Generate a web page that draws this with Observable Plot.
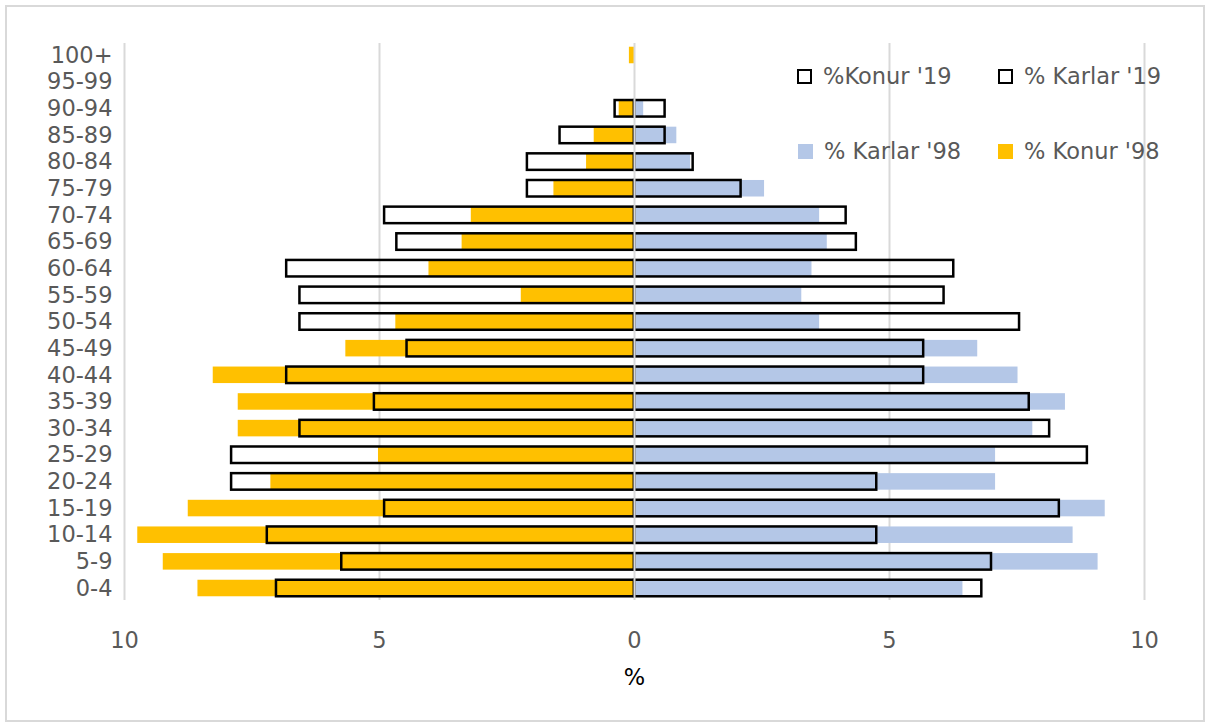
<!DOCTYPE html>
<html>
<head>
<meta charset="utf-8">
<script src="https://cdn.jsdelivr.net/npm/d3@7"></script>
<script src="https://cdn.jsdelivr.net/npm/@observablehq/plot@0.6"></script>
<style>
  html, body { margin: 0; padding: 0; background: #fff; }
  #wrap { position: relative; width: 1207px; height: 724px; overflow: hidden; }
  #frame { position: absolute; left: 5px; top: 5px; width: 1196px; height: 713px; border: 2px solid #d9d9d9; pointer-events: none; }
  #chart { position: absolute; left: 0; top: 0; }
  .leg { position: absolute; font-family: "DejaVu Sans", sans-serif; font-size: 22.5px; color: #595959; line-height: 1; white-space: nowrap; display: flex; align-items: center; }
  .sw { display: inline-block; width: 15px; height: 15px; box-sizing: border-box; margin-right: 11px; }
  .sw.outline { border: 2.5px solid #000; background: #fff; }
</style>
</head>
<body>
<div id="wrap">
  <div id="chart"></div>
  <div id="legend"></div>
  <div id="frame"></div>
</div>
<script>
// Age groups (bottom to top)
const ages = ["0-4","5-9","10-14","15-19","20-24","25-29","30-34","35-39","40-44","45-49","50-54","55-59","60-64","65-69","70-74","75-79","80-84","85-89","90-94","95-99","100+"];
// Percentages
const konur98  = [8.56, 9.24, 9.74, 8.75, 7.13, 5.02, 7.77, 7.77, 8.26, 5.66, 4.68, 2.22, 4.03, 3.38, 3.20, 1.58, 0.94, 0.79, 0.30, 0, 0.10];
const konur19  = [7.02, 5.74, 7.20, 4.90, 7.90, 7.90, 6.56, 5.10, 6.82, 4.46, 6.56, 6.56, 6.82, 4.66, 4.90, 2.10, 2.10, 1.46, 0.38, 0, 0];
const karlar98 = [6.44, 9.09, 8.60, 9.23, 7.08, 7.08, 7.81, 8.45, 7.52, 6.73, 3.63, 3.28, 3.48, 3.78, 3.63, 2.55, 1.10, 0.83, 0.18, 0, 0];
const karlar19 = [6.81, 7.00, 4.75, 8.33, 4.75, 8.88, 8.14, 7.74, 5.67, 5.67, 7.55, 6.07, 6.26, 4.35, 4.15, 2.09, 1.15, 0.60, 0.60, 0, 0];
const xTicks = [-10, -5, 0, 5, 10];
const gridTicks = [-10, -5, 5, 10];
const axisLabel = "%";
const seriesNames = ["%Konur '19", "% Karlar '19", "% Karlar '98", "% Konur '98"];
const colors = { konur98: "#FFC000", karlar98: "#B4C7E7" };

const rows = ages.map((a, i) => ({age: a, k98: konur98[i], k19: konur19[i], m98: karlar98[i], m19: karlar19[i]}));

const chart = Plot.plot({
  width: 1207,
  height: 724,
  marginTop: 43,
  marginBottom: 124,
  marginLeft: 124,
  marginRight: 63,
  style: { fontFamily: "DejaVu Sans", fontSize: "22.5px", color: "#595959", background: "transparent" },
  x: { domain: [-10, 10], label: null },
  y: { domain: ages.slice().reverse(), paddingInner: 0.38, paddingOuter: 0.14, round: false, label: null },
  marks: [
    Plot.ruleX(gridTicks, { stroke: "#d9d9d9", strokeWidth: 2 }),
    Plot.barX(rows.filter(d => d.k98 > 0), { y: "age", x: d => -d.k98, fill: colors.konur98 }),
    Plot.barX(rows.filter(d => d.m98 > 0), { y: "age", x: "m98", fill: colors.karlar98 }),
    Plot.barX(rows.filter(d => d.k19 > 0), { y: "age", x: d => -d.k19, fill: "none", stroke: "#000", strokeWidth: 2.5 }),
    Plot.barX(rows.filter(d => d.m19 > 0), { y: "age", x: "m19", fill: "none", stroke: "#000", strokeWidth: 2.5 }),
    Plot.ruleX([0], { stroke: "#d9d9d9", strokeWidth: 2 }),
    Plot.axisY({ tickSize: 0, tickPadding: 12, label: null }),
    Plot.axisX({ ticks: xTicks, tickFormat: d => Math.abs(d), tickSize: 0, tickPadding: 32, label: null }),
    Plot.text([axisLabel], { frameAnchor: "bottom", lineAnchor: "middle", dy: 77, fill: "#000", fontSize: 22.5 })
  ]
});
document.getElementById("chart").appendChild(chart);

// Legend (HTML overlay, two rows)
const legendItems = [
  { name: seriesNames[0], type: "outline", left: 797, top: 76 },
  { name: seriesNames[1], type: "outline", left: 998, top: 76 },
  { name: seriesNames[2], type: "fill", color: colors.karlar98, left: 798, top: 151 },
  { name: seriesNames[3], type: "fill", color: colors.konur98, left: 998, top: 151 }
];
const leg = document.getElementById("legend");
for (const it of legendItems) {
  const d = document.createElement("div");
  d.className = "leg";
  d.style.left = it.left + "px";
  d.style.top = (it.top - 16) + "px";
  d.style.height = "32px";
  const s = document.createElement("span");
  s.className = "sw" + (it.type === "outline" ? " outline" : "");
  if (it.type === "fill") s.style.background = it.color;
  const t = document.createElement("span");
  t.textContent = it.name;
  d.appendChild(s); d.appendChild(t);
  leg.appendChild(d);
}
</script>
</body>
</html>
